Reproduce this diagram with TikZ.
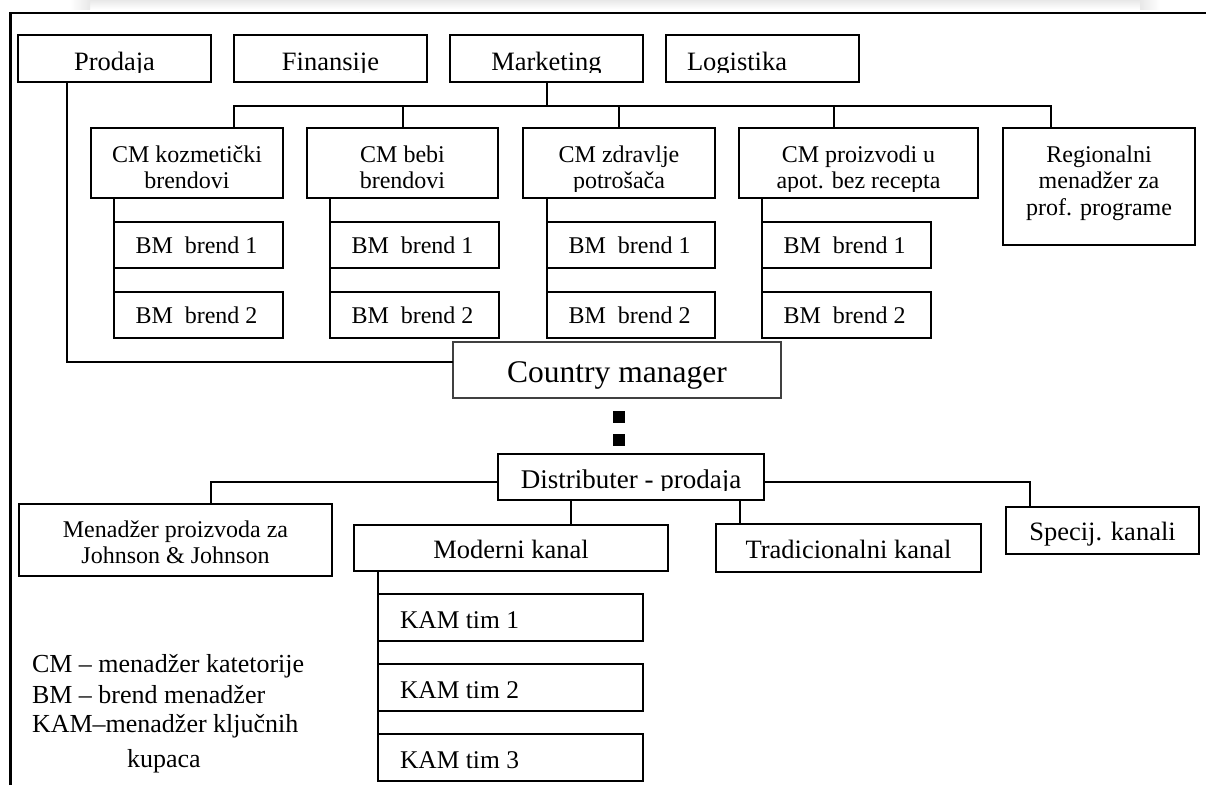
\documentclass[tikz,border=0pt]{standalone}
\usepackage{fontspec}
\setmainfont{Liberation Serif}
% box from (x1,y1) to (x2,y2), y measured downwards
\newcommand\orgbox[6][]{\node[box,#1,minimum width={(#5-#3)*1pt},minimum height={(#6-#4)*1pt}] (#2) at ({(#3+#5)/2},{(#4+#6)/2}) {};}
\newcommand\fs[1]{\fontsize{#1}{#1}\selectfont}
\begin{document}
\begin{tikzpicture}[x=1pt,y=-1pt,
  box/.style={draw,line width=2.1pt,inner sep=0pt,outer sep=0pt},
  txt/.style={inner sep=0pt,outer sep=0pt,anchor=base},
  txtl/.style={inner sep=0pt,outer sep=0pt,anchor=base west},
  link/.style={line width=2pt},
  dot/.style={fill=black,inner sep=0pt,minimum size=12pt}]
\useasboundingbox (0,0) rectangle (1206,785);

% faint page shadow and frame
\shade[top color=black!9,bottom color=white] (90,0) rectangle (1140,9);
\shade[left color=white,right color=black!9] (70,0) rectangle (90,9);
\shade[left color=black!9,right color=white] (1140,0) rectangle (1160,9);
\draw[line width=2.3pt] (10.5,785) -- (10.5,12.7) -- (1206,12.7);

% top level departments
\orgbox{prodaja}{18}{35}{211}{82}
\orgbox{finansije}{234}{35}{427}{82}
\orgbox{marketing}{450}{35}{643}{82}
\orgbox{logistika}{666}{35}{859}{82}
\begin{scope}
\clip (18,35) rectangle (859,72.5);
\node[txt,font=\fs{26.5}] (tprodaja) at (114.5,70) {Prodaja};
\node[txt,font=\fs{26.5}] (tfinansije) at (330.5,70) {Finansije};
\node[txt,font=\fs{26.5}] (tmarketing) at (546.5,70) {Marketing};
\node[txtl,font=\fs{26.5}] (tlogistika) at (687,70) {Logistika};
\end{scope}

% category managers
\orgbox{cmkoz}{91}{128}{283}{198}
\orgbox{cmbebi}{307}{128}{498}{198}
\orgbox{cmzdr}{523}{128}{715}{198}
\orgbox{cmpro}{739}{128}{978}{198}
\orgbox{regional}{1003}{128}{1195}{245}
\begin{scope}[every node/.style={txt,font=\fs{24}}]
\clip (91,128) rectangle (978,191);
\node (tkoz1) at (187,162) {CM kozmetički};
\node (tkoz2) at (187,188) {brendovi};
\node (tbebi1) at (402.5,162) {CM bebi};
\node (tbebi2) at (402.5,188) {brendovi};
\node (tzdr1) at (619,162) {CM zdravlje};
\node (tzdr2) at (619,188) {potrošača};
\node (tpro1) at (858.5,162) {CM proizvodi u};
\node (tpro2) at (858.5,188) {apot. bez recepta};
\end{scope}
\begin{scope}[every node/.style={txt,font=\fs{24}}]
\node (treg1) at (1099,162) {Regionalni};
\node (treg2) at (1099,188) {menadžer za};
\node (treg3) at (1099,215) {prof. programe};
\end{scope}

% brand managers
\foreach \c/\xa/\xb in {1/114/283,2/330/499,3/547/715,4/762/931}{
  \orgbox{bm\c1}{\xa}{222}{\xb}{268}
  \orgbox{bm\c2}{\xa}{292}{\xb}{338}
  \node[txtl,font=\fs{24}] (tbm\c1) at (\xa+21.5,253) {BM\ \ brend 1};
  \node[txtl,font=\fs{24}] (tbm\c2) at (\xa+21.5,323) {BM\ \ brend 2};
}

% marketing bus
\draw[link] (marketing.south) -- (marketing.south |- 0,106);
\draw[link] (cmkoz.north -| 234,0) -- (234,106) -- (1051,106) -- (regional.north -| 1051,0);
\draw[link] (cmbebi.north) -- (cmbebi.north |- 0,106);
\draw[link] (cmzdr.north) -- (cmzdr.north |- 0,106);
\draw[link] (cmpro.north -| 834,0) -- (834,106);

% brand spines
\draw[link] (cmkoz.south -| bm11.west) -- (bm12.north west);
\draw[link] (cmbebi.south -| bm21.west) -- (bm22.north west);
\draw[link] (cmzdr.south -| bm31.west) -- (bm32.north west);
\draw[link] (cmpro.south -| bm41.west) -- (bm42.north west);

% country manager
\orgbox[line width=1.4pt,draw=black!75]{country}{453}{342}{781}{398}
\node[txt,font=\fs{31.5}] (tcountry) at (617,382) {Country manager};
\draw[link] (prodaja.south -| 67,0) -- (67,362) -- (country.west |- 0,362);

% dotted link to the distributor
\node[dot] (dot1) at (619,416.5) {};
\node[dot] (dot2) at (619,440) {};

% distributor
\orgbox{distrib}{498}{454}{764}{500}
\begin{scope}
\clip (498,454) rectangle (764,490.5);
\node[txt,font=\fs{27}] (tdistrib) at (631,488) {Distributer - prodaja};
\end{scope}

\orgbox{menadzer}{19}{504}{332}{576}
\node[txt,font=\fs{24}] (tmen1) at (175.5,537) {Menadžer proizvoda za};
\node[txt,font=\fs{24}] (tmen2) at (175.5,563) {Johnson \& Johnson};
\orgbox{moderni}{354}{525}{668}{571}
\node[txt,font=\fs{26.5}] (tmoderni) at (511,558) {Moderni kanal};
\orgbox{trad}{716}{524}{981}{572}
\node[txt,font=\fs{26.5}] (ttrad) at (848.5,558) {Tradicionalni kanal};
\orgbox{specij}{1006}{507}{1199}{554}
\node[txt,font=\fs{26.5}] (tspecij) at (1102.5,540) {Specij. kanali};

\draw[link] (distrib.west |- 0,481.5) -| (menadzer.north -| 211,0);
\draw[link] (distrib.east |- 0,481.5) -| (specij.north -| 1030,0);
\draw[link] (distrib.south -| 571,0) -- (moderni.north -| 571,0);
\draw[link] (distrib.south -| 740,0) -- (trad.north -| 740,0);

% key account teams
\orgbox{kam1}{378}{594}{643}{641}
\orgbox{kam2}{378}{664}{643}{711}
\orgbox{kam3}{378}{734}{643}{781}
\node[txtl,font=\fs{25.5}] (tkam1) at (400,628) {KAM tim 1};
\node[txtl,font=\fs{25.5}] (tkam2) at (400,698) {KAM tim 2};
\node[txtl,font=\fs{25.5}] (tkam3) at (400,768) {KAM tim 3};
\draw[link] (moderni.south -| kam1.west) -- (kam3.north west);

% legend
\begin{scope}[every node/.style={txtl,font=\fs{26}}]
\node (leg1) at (32,672) {CM – menadžer katetorije};
\node (leg2) at (32,703) {BM – brend menadžer};
\node (leg3) at (32,732) {KAM–menadžer ključnih};
\node (leg4) at (127,767) {kupaca};
\end{scope}
\end{tikzpicture}
\end{document}
